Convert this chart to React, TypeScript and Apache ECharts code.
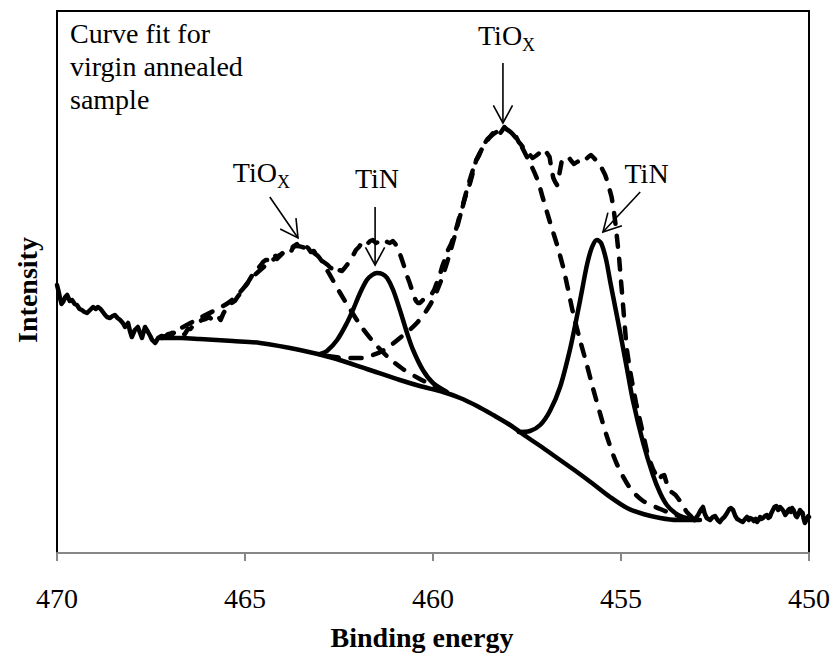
import React, { useEffect, useRef } from "react";
import * as echarts from "echarts";

// ---------- data (binding energy in eV, intensity in arbitrary units) ----------
const xTicks = [470, 465, 460, 455, 450];

// measured spectrum, outside the fitted window (solid)
const rawLeft: number[][] = [
  [470.0, 268], [469.96, 262], [469.92, 255], [469.88, 249], [469.84, 251], [469.78, 256], [469.73, 258],
  [469.66, 252], [469.6, 253], [469.53, 249], [469.47, 248], [469.4, 244], [469.34, 243], [469.27, 241],
  [469.2, 240], [469.12, 243], [469.04, 246], [468.97, 244], [468.91, 246], [468.84, 244], [468.78, 241],
  [468.72, 238], [468.67, 236], [468.59, 235], [468.52, 237], [468.46, 238], [468.39, 235], [468.32, 233],
  [468.25, 230], [468.19, 226], [468.11, 230], [468.06, 222], [468.01, 216], [467.93, 223], [467.85, 226],
  [467.79, 220], [467.74, 215], [467.66, 226], [467.58, 221], [467.52, 217], [467.47, 213], [467.39, 210],
  [467.31, 215], [467.22, 217], [467.13, 216],
];

// measured spectrum inside the fitted window (dashed)
const rawMid: number[][] = [
  [467.13, 216], [467.04, 219], [466.95, 218], [466.87, 221], [466.8, 221], [466.7, 218], [466.6, 219],
  [466.52, 224], [466.45, 224], [466.37, 228], [466.3, 230], [466.22, 231], [466.15, 233], [466.05, 234],
  [465.95, 236], [465.87, 233], [465.8, 234], [465.72, 237], [465.65, 233], [465.57, 240], [465.5, 244],
  [465.42, 246], [465.35, 250], [465.27, 252], [465.2, 256], [465.12, 260], [465.05, 262], [464.97, 268],
  [464.9, 272], [464.82, 277], [464.75, 282], [464.67, 284], [464.6, 287], [464.52, 291], [464.45, 293],
  [464.37, 293], [464.3, 296], [464.22, 299], [464.15, 294], [464.07, 297], [464.0, 300], [463.92, 303],
  [463.85, 304], [463.77, 302], [463.7, 307], [463.62, 309], [463.55, 305], [463.47, 304], [463.4, 307],
  [463.32, 305], [463.25, 301], [463.17, 302], [463.1, 298], [463.02, 294], [462.95, 292], [462.87, 290],
  [462.8, 288], [462.72, 285], [462.65, 284], [462.57, 280], [462.5, 283], [462.42, 282], [462.35, 285],
  [462.27, 289], [462.2, 293], [462.12, 298], [462.05, 303], [461.97, 306], [461.9, 310], [461.82, 307],
  [461.75, 309], [461.67, 312], [461.6, 313], [461.52, 310], [461.45, 311], [461.37, 313], [461.3, 314],
  [461.22, 311], [461.15, 310], [461.07, 312], [461.0, 309], [460.92, 303], [460.85, 296], [460.77, 287],
  [460.7, 278], [460.62, 270], [460.55, 262], [460.5, 256], [460.45, 252], [460.4, 250], [460.35, 250],
  [460.27, 253], [460.2, 254], [460.12, 256], [460.05, 258], [459.97, 263], [459.9, 270], [459.82, 278],
  [459.75, 287], [459.67, 295], [459.6, 303], [459.52, 309], [459.45, 316], [459.37, 326], [459.3, 336],
  [459.22, 345], [459.15, 355], [459.07, 363], [459.0, 372], [458.92, 383], [458.85, 393], [458.77, 398],
  [458.7, 405], [458.62, 410], [458.55, 414], [458.47, 417], [458.4, 420], [458.32, 416], [458.25, 418],
  [458.17, 422], [458.1, 426], [458.02, 423], [457.95, 421], [457.87, 418], [457.8, 417], [457.72, 411],
  [457.65, 408], [457.57, 404], [457.5, 402], [457.42, 398], [457.35, 395], [457.27, 397], [457.2, 399],
  [457.12, 402], [457.05, 404], [456.97, 400], [456.9, 396], [456.85, 384], [456.8, 375], [456.75, 371],
  [456.7, 368], [456.63, 381], [456.57, 393], [456.48, 395], [456.4, 396], [456.32, 392], [456.25, 389],
  [456.17, 391], [456.1, 392], [456.02, 390], [455.95, 393], [455.87, 396], [455.8, 398], [455.72, 395],
  [455.65, 392], [455.57, 389], [455.5, 384], [455.42, 378], [455.35, 370], [455.3, 363], [455.25, 356],
  [455.2, 345], [455.15, 330], [455.1, 313], [455.05, 295], [455.0, 272], [454.95, 250], [454.9, 227],
  [454.85, 205], [454.77, 185], [454.7, 170], [454.65, 160], [454.6, 150], [454.52, 137], [454.45, 125],
  [454.37, 112], [454.3, 100], [454.22, 91], [454.15, 84], [454.07, 78], [454.0, 73], [453.92, 77],
  [453.85, 78], [453.77, 68], [453.7, 62], [453.62, 60], [453.55, 58], [453.47, 54], [453.4, 50],
  [453.32, 45], [453.25, 41], [453.15, 37],
];

// measured spectrum, outside the fitted window (solid)
const rawRight: number[][] = [
  [453.15, 37], [453.05, 33], [452.95, 38], [452.88, 43], [452.82, 46], [452.77, 39], [452.72, 35],
  [452.63, 33], [452.56, 36], [452.5, 37], [452.43, 33], [452.37, 31], [452.31, 34], [452.25, 36],
  [452.18, 40], [452.12, 44], [452.08, 45], [452.02, 43], [451.96, 37], [451.91, 34], [451.86, 33],
  [451.82, 32], [451.76, 31], [451.7, 34], [451.65, 36], [451.6, 33], [451.57, 35], [451.51, 34],
  [451.47, 32], [451.42, 34], [451.38, 31], [451.34, 33], [451.3, 36], [451.26, 34], [451.22, 35],
  [451.17, 37], [451.12, 38], [451.08, 35], [451.04, 36], [451.0, 40], [450.96, 43], [450.92, 46],
  [450.87, 47], [450.82, 43], [450.77, 46], [450.72, 44], [450.68, 42], [450.63, 38], [450.59, 40],
  [450.55, 43], [450.52, 44], [450.48, 41], [450.45, 45], [450.41, 43], [450.38, 40], [450.35, 37],
  [450.32, 36], [450.28, 39], [450.24, 43], [450.2, 41], [450.17, 40], [450.14, 34], [450.11, 30],
  [450.08, 32], [450.05, 34], [450.02, 37], [450.0, 36],
];

// fitted components (all include the background)
const background: number[][] = [
  [467.26, 215], [466.7, 215], [466.2, 214], [465.32, 212], [464.6, 210], [463.54, 203], [462.66, 195],
  [461.76, 184], [460.88, 173], [460.35, 167], [459.73, 161], [459.28, 155], [458.83, 147], [458.4, 138],
  [457.95, 128], [457.5, 116], [457.07, 105], [456.62, 93], [456.17, 81], [455.74, 69], [455.29, 56],
  [454.84, 45], [454.41, 39], [453.96, 35], [453.51, 33], [452.9, 33],
];

const tinFit1: number[][] = [
  [463.0, 199], [462.82, 202], [462.55, 213], [462.29, 230], [462.13, 243], [461.94, 260], [461.76, 273],
  [461.62, 278], [461.49, 280], [461.35, 279], [461.22, 275], [461.06, 263], [460.88, 243], [460.69, 220],
  [460.53, 203], [460.27, 183], [460.0, 170], [459.63, 161],
];

const tinFit2: number[][] = [
  [457.72, 121], [457.42, 122], [457.15, 128], [456.89, 142], [456.62, 166], [456.36, 203], [456.17, 237],
  [456.03, 264], [455.9, 289], [455.77, 306], [455.64, 313], [455.53, 310], [455.4, 294], [455.29, 272],
  [455.16, 247], [455.03, 222], [454.84, 184], [454.68, 152], [454.41, 110], [454.15, 78], [453.96, 60],
  [453.78, 48], [453.56, 40], [453.35, 36], [453.03, 33],
];

const tioxFit1: number[][] = [
  [467.21, 215], [466.7, 225], [466.2, 235], [465.45, 250], [465.13, 261], [464.79, 276], [464.47, 287],
  [464.07, 298], [463.62, 307], [463.09, 298], [462.82, 283], [462.47, 260], [462.21, 244], [461.86, 224],
  [461.49, 207], [461.14, 194], [460.8, 184], [460.35, 174], [460.08, 169], [459.81, 164], [459.6, 160],
];

const tioxFit2: number[][] = [
  [462.8, 197], [462.3, 195], [461.9, 195], [461.6, 198], [461.3, 203], [460.88, 215], [460.43, 230],
  [460.08, 248], [459.81, 270], [459.55, 300], [459.28, 337], [459.1, 363], [458.83, 394], [458.48, 416],
  [458.09, 424], [457.77, 414], [457.5, 396], [457.23, 374], [457.07, 354], [456.89, 331], [456.7, 308],
  [456.54, 286], [456.41, 264], [456.28, 241], [456.09, 213], [455.9, 187], [455.74, 164], [455.56, 140],
  [455.37, 116], [455.11, 89], [454.76, 65], [454.41, 52], [453.96, 44], [453.62, 39], [453.16, 33],
];

// annotations: peak names and the arrows pointing at them
const peakNames = ["TiO", "TiN", "TiO", "TiN"];
const peakSubs = ["X", "", "X", ""];
const peakNameAnchors: number[][] = [
  [464.15, 380.5], [461.49, 374.5], [457.63, 517.5], [454.32, 379.5],
];
const arrowLines: number[][] = [
  [464.34, 356, 463.59, 315],
  [461.54, 346, 461.54, 288],
  [458.14, 490, 458.14, 430],
  [454.49, 361, 455.48, 321],
];

const noteText = "Curve fit for\nvirgin annealed\nsample";

const FONT = "Liberation Serif";

export default function App() {
  const ref = useRef<HTMLDivElement>(null);

  useEffect(() => {
    document.body.style.margin = "0";
    if (!ref.current) return;
    const chart = echarts.init(ref.current, null, { renderer: "svg" });

    const solid = (data: number[][], smooth: boolean) => ({
      type: "line",
      data,
      symbol: "none",
      smooth: smooth ? 0.3 : false,
      clip: false,
      lineStyle: { color: "#000", width: 4.5, cap: "round", join: "round" },
      z: 3,
    });
    const dashed = (data: number[][], smooth: boolean) => ({
      type: "line",
      data,
      symbol: "none",
      smooth: smooth ? 0.3 : false,
      clip: false,
      lineStyle: { color: "#000", width: 4.5, type: [11, 12], cap: "round", join: "round" },
      z: 3,
    });

    chart.setOption({
      animation: false,
      backgroundColor: "#fff",
      textStyle: { fontFamily: FONT, color: "#000" },
      graphic: [
        {
          type: "text",
          left: 70,
          top: 17,
          silent: true,
          style: {
            text: noteText,
            fontFamily: FONT,
            fontSize: 28,
            lineHeight: 33,
            fill: "#000",
          },
        },
      ],
      grid: {
        left: 57,
        right: 27,
        top: 11,
        bottom: 104,
        show: true,
        borderColor: "#000",
        borderWidth: 2,
        backgroundColor: "transparent",
      },
      xAxis: {
        type: "value",
        min: 450,
        max: 470,
        interval: 5,
        inverse: true,
        name: "Binding energy",
        nameLocation: "middle",
        nameGap: 70,
        nameTextStyle: {
          fontFamily: FONT,
          fontSize: 28,
          fontWeight: "bold",
          color: "#000",
          padding: [0, 22, 0, 0],
        },
        axisLine: { show: true, onZero: false, lineStyle: { color: "#878787", width: 2 } },
        axisTick: { show: true, length: 8, lineStyle: { color: "#878787", width: 2 } },
        axisLabel: { show: false },
        splitLine: { show: false },
        z: 5,
      },
      yAxis: {
        type: "value",
        min: 0,
        max: 542,
        name: "Intensity",
        nameLocation: "middle",
        nameGap: 16,
        nameTextStyle: {
          fontFamily: FONT,
          fontSize: 28,
          fontWeight: "bold",
          color: "#000",
          padding: [0, 16, 0, 0],
        },
        axisLine: { show: false },
        axisTick: { show: false },
        axisLabel: { show: false },
        splitLine: { show: false },
      },
      series: [
        solid(rawLeft, false),
        dashed(rawMid, false),
        solid(rawRight, false),
        solid(background, true),
        solid(tinFit1, true),
        solid(tinFit2, true),
        dashed(tioxFit1, true),
        dashed(tioxFit2, true),
        {
          // x tick labels, placed through the axis scale
          type: "custom",
          coordinateSystem: "cartesian2d",
          data: xTicks.map((v) => [v, 0]),
          clip: false,
          silent: true,
          z: 6,
          renderItem: (_params: any, api: any) => {
            const c = api.coord([api.value(0), api.value(1)]);
            return {
              type: "text",
              x: c[0],
              y: c[1] + 45,
              style: {
                text: String(api.value(0)),
                fontFamily: FONT,
                fontSize: 28,
                fill: "#000",
                align: "center",
                verticalAlign: "middle",
              },
            };
          },
        },
        {
          type: "custom",
          coordinateSystem: "cartesian2d",
          data: arrowLines,
          encode: { x: [0, 2], y: [1, 3] },
          clip: false,
          silent: true,
          z: 6,
          renderItem: (_params: any, api: any) => {
            const a = api.coord([api.value(0), api.value(1)]);
            const b = api.coord([api.value(2), api.value(3)]);
            const ang = Math.atan2(b[1] - a[1], b[0] - a[0]);
            const L = 20;
            const sp = 0.5;
            const p1 = [b[0] - L * Math.cos(ang - sp), b[1] - L * Math.sin(ang - sp)];
            const p2 = [b[0] - L * Math.cos(ang + sp), b[1] - L * Math.sin(ang + sp)];
            return {
              type: "group",
              children: [
                {
                  type: "line",
                  shape: { x1: a[0], y1: a[1], x2: b[0], y2: b[1] },
                  style: { stroke: "#000", lineWidth: 1.6 },
                },
                {
                  type: "polyline",
                  shape: { points: [p1, b, p2] },
                  style: { stroke: "#000", lineWidth: 1.6, fill: null },
                },
              ],
            };
          },
        },
        {
          type: "custom",
          coordinateSystem: "cartesian2d",
          data: peakNameAnchors.map((p, i) => [p[0], p[1], i]),
          clip: false,
          silent: true,
          z: 6,
          renderItem: (_params: any, api: any) => {
            const i = api.value(2);
            const c = api.coord([api.value(0), api.value(1)]);
            const hasSub = peakSubs[i] !== "";
            const children: any[] = [
              {
                type: "text",
                x: c[0],
                y: c[1],
                style: {
                  text: peakNames[i],
                  fontFamily: FONT,
                  fontSize: 28,
                  fill: "#000",
                  align: hasSub ? "right" : "center",
                  verticalAlign: "middle",
                },
              },
            ];
            if (hasSub) {
              children.push({
                type: "text",
                x: c[0],
                y: c[1] + 9.5,
                style: {
                  text: peakSubs[i],
                  fontFamily: FONT,
                  fontSize: 18,
                  fill: "#000",
                  align: "left",
                  verticalAlign: "middle",
                },
              });
            }
            return { type: "group", children };
          },
        },
      ],
    });

    return () => chart.dispose();
  }, []);

  return (
    <div
      ref={ref}
      style={{ position: "absolute", left: 0, top: 0, width: 836, height: 657, background: "#fff" }}
    />
  );
}
